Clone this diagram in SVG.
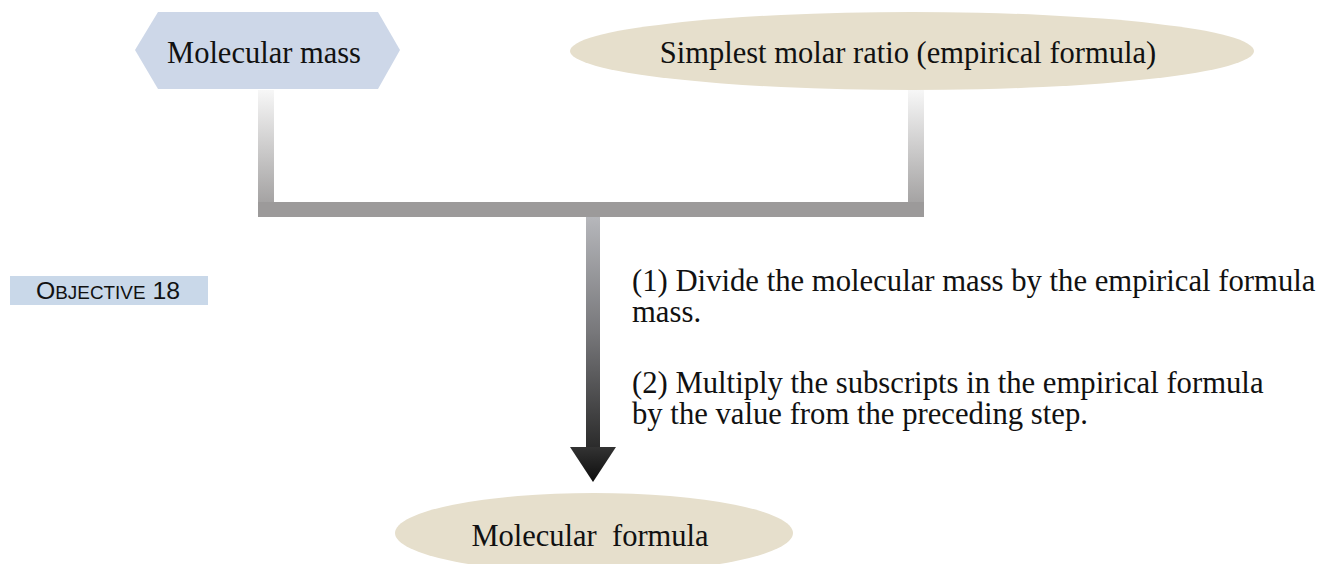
<svg xmlns="http://www.w3.org/2000/svg" width="1320" height="564" viewBox="0 0 1320 564">
  <defs>
    <linearGradient id="gSide" x1="0" y1="0" x2="0" y2="1">
      <stop offset="0" stop-color="#f7f7f7"/>
      <stop offset="1" stop-color="#9a9898"/>
    </linearGradient>
    <linearGradient id="gShaft" x1="0" y1="0" x2="0" y2="1">
      <stop offset="0" stop-color="#b6b7bb"/>
      <stop offset="0.5" stop-color="#77777a"/>
      <stop offset="1" stop-color="#2a2a2a"/>
    </linearGradient>
    <linearGradient id="gHead" x1="0" y1="0" x2="0" y2="1">
      <stop offset="0" stop-color="#333333"/>
      <stop offset="1" stop-color="#0d0d0d"/>
    </linearGradient>
  </defs>
  <style>
    .lbl { font-family: "Liberation Serif", "Times New Roman", serif; font-size: 30.5px; fill: #111111; }
    .step { font-family: "Liberation Serif", "Times New Roman", serif; font-size: 30.7px; fill: #111111; }
    .obj { font-family: "Liberation Sans", Arial, sans-serif; fill: #111111; }
    .blue { fill: #cdd7e8; }
    .tan { fill: #e6dfcc; }
  </style>
  <rect width="1320" height="564" fill="#ffffff"/>

  <g id="connectors">
    <rect x="258" y="90" width="16" height="127" fill="url(#gSide)"/>
    <rect x="908" y="90" width="16" height="127" fill="url(#gSide)"/>
    <rect x="258" y="202" width="666" height="15" fill="#9c9a9a"/>
    <rect x="586" y="217" width="14" height="232" fill="url(#gShaft)"/>
    <polygon points="570,447 616,447 593,482" fill="url(#gHead)"/>
  </g>

  <g id="node-molecular-mass">
    <polygon class="blue" points="135,50 158,12 378,12 400,50 378,89 158,89"/>
    <text class="lbl" x="264" y="63" text-anchor="middle">Molecular mass</text>
  </g>

  <g id="node-simplest-ratio">
    <ellipse class="tan" cx="912" cy="51" rx="342" ry="39"/>
    <text class="lbl" x="908" y="63" text-anchor="middle">Simplest molar ratio (empirical formula)</text>
  </g>

  <g id="node-molecular-formula">
    <ellipse class="tan" cx="594" cy="533" rx="199" ry="40"/>
    <text class="lbl" x="590" y="546" text-anchor="middle">Molecular&#160; formula</text>
  </g>

  <g id="objective">
    <rect x="10" y="276" width="198" height="29" fill="#c9d8e9"/>
    <text class="obj" x="36" y="299" textLength="144" lengthAdjust="spacingAndGlyphs"><tspan font-size="23">O</tspan><tspan font-size="17.5">BJECTIVE</tspan><tspan font-size="23"> 18</tspan></text>
  </g>

  <g id="steps">
    <text class="step" x="632" y="291">(1) Divide the molecular mass by the empirical formula<tspan x="632" y="322">mass.</tspan></text>
    <text class="step" x="632" y="393">(2) Multiply the subscripts in the empirical formula<tspan x="632" y="424">by the value from the preceding step.</tspan></text>
  </g>
</svg>
